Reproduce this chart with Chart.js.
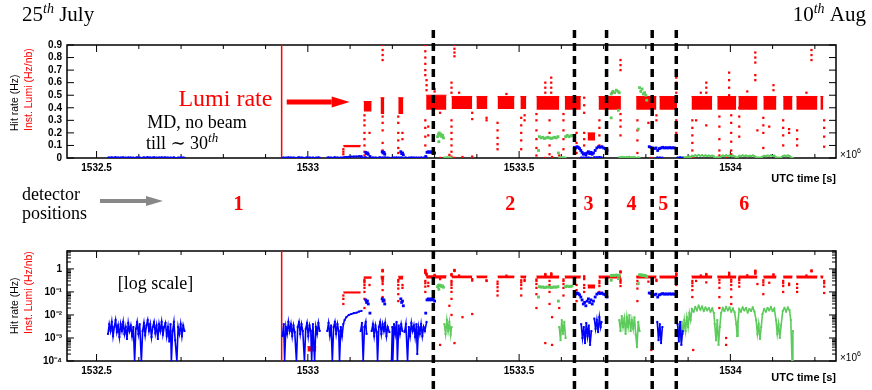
<!DOCTYPE html>
<html>
<head>
<meta charset="utf-8">
<script src="https://cdn.jsdelivr.net/npm/chart.js@4.4.1/dist/chart.umd.min.js"></script>
<style>
html, body { margin: 0; padding: 0; background: #fff; }
#wrap { position: relative; width: 872px; height: 390px; }
canvas { position: absolute; left: 0; }
#top { top: 0; }
#bottom { top: 240px; }
</style>
</head>
<body>
<div id="wrap">
  <canvas id="top" width="872" height="240"></canvas>
  <canvas id="bottom" width="872" height="150"></canvas>
</div>
<script>
// x values are UTC time in units of 1e6 s
const xTicks = [1532.5, 1533, 1533.5, 1534];
const linTicks = [0, 0.1, 0.2, 0.3, 0.4, 0.5, 0.6, 0.7, 0.8, 0.9];
const logTicks = [1e-4, 1e-3, 1e-2, 1e-1, 1];
const logTickLabels = ['10⁻⁴', '10⁻³', '10⁻²', '10⁻¹', '1'];

const dividers = [1533.297, 1533.631, 1533.707, 1533.815, 1533.872];
const positionNames = ['1', '2', '3', '4', '5', '6'];
const positionX = [1532.836, 1533.479, 1533.664, 1533.766, 1533.841, 1534.033];

// lumi fills: [start, end, low, high]
const lumiFills = [
    [1532.999, 1533.020, 0.00026, 0.00042],
    [1533.084, 1533.125, 0.085, 0.100],
    [1533.132, 1533.151, 0.37, 0.45],
    [1533.172, 1533.181, 0.35, 0.48],
    [1533.214, 1533.226, 0.35, 0.48],
    [1533.280, 1533.328, 0.385, 0.50],
    [1533.340, 1533.389, 0.39, 0.49],
    [1533.399, 1533.425, 0.39, 0.49],
    [1533.449, 1533.489, 0.39, 0.49],
    [1533.503, 1533.517, 0.39, 0.49],
    [1533.541, 1533.595, 0.385, 0.49],
    [1533.608, 1533.646, 0.385, 0.49],
    [1533.662, 1533.680, 0.14, 0.20],
    [1533.688, 1533.741, 0.385, 0.49],
    [1533.777, 1533.825, 0.385, 0.49],
    [1533.832, 1533.874, 0.385, 0.49],
    [1533.908, 1533.957, 0.385, 0.49],
    [1533.969, 1534.014, 0.385, 0.49],
    [1534.019, 1534.064, 0.385, 0.49],
    [1534.078, 1534.109, 0.385, 0.49],
    [1534.125, 1534.147, 0.385, 0.49],
    [1534.156, 1534.206, 0.385, 0.49],
    [1534.213, 1534.220, 0.385, 0.49]
];
const lumiSpike = [[1532.938, 0.00001], [1532.938, 50]];
// single lumi readings: [x, [y, ...]]
const lumiPoints = [
    [1533.084, [0.07, 0.05, 0.03]],
    [1533.134, [0.34, 0.3, 0.26, 0.2, 0.15, 0.1, 0.05, 0.02]],
    [1533.146, [0.2]],
    [1533.177, [0.9, 0.86, 0.82, 0.78, 0.33, 0.28, 0.22, 0.12, 0.06]],
    [1533.181, [0.04]],
    [1533.214, [0.33, 0.28, 0.2, 0.14, 0.08, 0.04]],
    [1533.224, [0.2, 0.15]],
    [1533.278, [0.9, 0.85, 0.8, 0.75, 0.7, 0.66, 0.3, 0.24, 0.17, 0.1]],
    [1533.281, [0.62, 0.58, 0.54]],
    [1533.285, [0.25, 0.18]],
    [1533.300, [0.53, 0.55]],
    [1533.313, [0.36, 0.0005]],
    [1533.335, [0.025]],
    [1533.340, [0.6, 0.56, 0.52, 0.3, 0.25, 0.2, 0.15, 0.1, 0.05, 0.01]],
    [1533.347, [0.9, 0.87, 0.84, 0.81, 0.0006]],
    [1533.358, [0.52]],
    [1533.366, [0.008]],
    [1533.389, [0.36, 0.31, 0.011]],
    [1533.423, [0.32, 0.3]],
    [1533.449, [0.28, 0.22, 0.16, 0.11, 0.07]],
    [1533.470, [0.51]],
    [1533.505, [0.32, 0.26, 0.2, 0.14, 0.07]],
    [1533.513, [0.34, 0.3]],
    [1533.541, [0.35, 0.3, 0.22, 0.15, 0.08, 0.02]],
    [1533.562, [0.6, 0.56, 0.52, 0.48, 0.0006]],
    [1533.572, [0.3, 0.2, 0.1, 0.03]],
    [1533.576, [0.64, 0.6, 0.56, 0.52]],
    [1533.578, [0.008, 0.0005]],
    [1533.595, [0.02]],
    [1533.605, [0.35, 0.3, 0.22, 0.15, 0.07]],
    [1533.636, [0.2, 0.12, 0.04]],
    [1533.654, [0.48, 0.42, 0.36, 0.2, 0.15, 0.1]],
    [1533.690, [0.3, 0.24, 0.18, 0.1]],
    [1533.720, [0.52]],
    [1533.740, [0.78, 0.74, 0.7, 0.35, 0.3, 0.25, 0.18]],
    [1533.780, [0.3, 0.22, 0.14, 0.04]],
    [1533.806, [0.28]],
    [1533.813, [0.0003]],
    [1533.825, [0.34, 0.3]],
    [1533.872, [0.64, 0.6, 0.56, 0.52, 0.35, 0.3, 0.25, 0.2]],
    [1533.910, [0.3, 0.24, 0.18, 0.12, 0.06]],
    [1533.912, [0.0003]],
    [1533.919, [0.3]],
    [1533.930, [0.52]],
    [1533.943, [0.6, 0.56, 0.52, 0.26]],
    [1533.974, [0.33, 0.25, 0.15, 0.06, 0.02]],
    [1533.990, [0.0005, 0.001]],
    [1533.997, [0.68, 0.62, 0.56, 0.5]],
    [1534.002, [0.34, 0.28, 0.2, 0.13, 0.06, 0.03]],
    [1534.021, [0.4, 0.33, 0.25, 0.17]],
    [1534.040, [0.53]],
    [1534.059, [0.84, 0.8, 0.76, 0.66, 0.62]],
    [1534.064, [0.22]],
    [1534.078, [0.32, 0.26, 0.2, 0.08]],
    [1534.092, [0.25]],
    [1534.102, [0.58, 0.54]],
    [1534.125, [0.3, 0.24, 0.18, 0.1]],
    [1534.139, [0.23, 0.2]],
    [1534.158, [0.22, 0.15, 0.1]],
    [1534.180, [0.52]],
    [1534.192, [0.86, 0.82, 0.78]],
    [1534.222, [0.3, 0.24, 0.17, 0.09]]
];

// hit rate, detector in blue: noisy baseline stretches
const blueNoise = [
    [[1532.527,0.0015],[1532.530,0.004],[1532.533,0.002],[1532.536,0.005],[1532.539,0.0012],[1532.542,0.003],[1532.545,0.006],[1532.548,0.0018],[1532.551,0.0035],[1532.554,0.0011],[1532.557,0.004],[1532.560,0.002],[1532.563,0.005],[1532.566,0.0015],[1532.569,0.003],[1532.572,0.0009],[1532.575,0.0045],[1532.578,0.002],[1532.581,0.0035],[1532.584,0.0012],[1532.587,0.003],[1532.590,0.0001],[1532.593,0.0025],[1532.596,0.005],[1532.599,0.0015],[1532.602,0.004],[1532.606,0.0001],[1532.609,0.002],[1532.612,0.0045],[1532.615,0.0013],[1532.618,0.0035],[1532.621,0.006],[1532.624,0.002],[1532.627,0.004],[1532.630,0.0011],[1532.633,0.003],[1532.636,0.005],[1532.639,0.0016],[1532.642,0.0035],[1532.645,0.0009],[1532.648,0.004],[1532.651,0.002],[1532.654,0.005],[1532.657,0.0014],[1532.660,0.003],[1532.663,0.0045],[1532.666,0.0012],[1532.669,0.003],[1532.672,0.0007],[1532.675,0.004],[1532.677,0.0001],[1532.680,0.002],[1532.683,0.005],[1532.686,0.0008],[1532.690,0.0001],[1532.693,0.003],[1532.696,0.0015],[1532.699,0.004],[1532.702,0.0012],[1532.705,0.0035],[1532.708,0.002]],
    [[1532.940,0.0012],[1532.943,0.004],[1532.945,0.0001],[1532.948,0.003],[1532.951,0.0015],[1532.954,0.005],[1532.957,0.002],[1532.960,0.004],[1532.963,0.0012],[1532.966,0.0035],[1532.969,0.0018],[1532.973,0.0001],[1532.976,0.003],[1532.979,0.005],[1532.982,0.0015],[1532.985,0.004],[1532.988,0.002],[1532.992,0.0001],[1532.995,0.0025],[1532.998,0.0045],[1533.001,0.0012],[1533.004,0.0035],[1533.007,0.002],[1533.009,0.0001],[1533.012,0.004],[1533.016,0.0001],[1533.019,0.003],[1533.022,0.0015],[1533.025,0.0045],[1533.028,0.002]],
    [[1533.046,0.002],[1533.049,0.0045],[1533.052,0.0013],[1533.055,0.0035],[1533.058,0.0001],[1533.061,0.003],[1533.064,0.005],[1533.067,0.0015],[1533.070,0.004],[1533.073,0.002],[1533.075,0.0001],[1533.078,0.003],[1533.081,0.0012],[1533.084,0.004],[1533.087,0.006],[1533.091,0.008],[1533.097,0.01],[1533.103,0.011],[1533.109,0.012],[1533.115,0.0125],[1533.121,0.014],[1533.127,0.015]],
    [[1533.125,0.002],[1533.128,0.0045],[1533.131,0.0001],[1533.134,0.003],[1533.137,0.005],[1533.139,0.0015]],
    [[1533.151,0.002],[1533.154,0.004],[1533.157,0.0012],[1533.160,0.0035],[1533.163,0.0018],[1533.165,0.0001],[1533.168,0.003],[1533.171,0.005],[1533.174,0.0015],[1533.177,0.004],[1533.180,0.002],[1533.183,0.0045],[1533.186,0.0012],[1533.189,0.003],[1533.193,0.0018]],
    [[1533.198,0.0001],[1533.200,0.003],[1533.201,0.0001],[1533.204,0.004],[1533.207,0.0015],[1533.210,0.005],[1533.212,0.0001],[1533.215,0.0035],[1533.218,0.0015],[1533.221,0.004],[1533.224,0.002]],
    [[1533.229,0.0018],[1533.232,0.004],[1533.236,0.0001],[1533.239,0.003],[1533.242,0.0012],[1533.245,0.0045],[1533.248,0.002],[1533.251,0.0035],[1533.254,0.0011],[1533.257,0.004],[1533.259,0.0002],[1533.262,0.003],[1533.265,0.0015],[1533.268,0.004],[1533.271,0.0012],[1533.274,0.003],[1533.277,0.002],[1533.281,0.005]],
    [[1533.647,0.004],[1533.650,0.001],[1533.653,0.003],[1533.656,0.0006],[1533.659,0.0045],[1533.662,0.0012],[1533.665,0.0035],[1533.668,0.0005],[1533.671,0.002]],
    [[1533.678,0.007],[1533.681,0.0025],[1533.684,0.006],[1533.687,0.0018],[1533.690,0.008],[1533.693,0.003],[1533.695,0.005]],
    [[1533.827,0.005],[1533.830,0.0008],[1533.833,0.004],[1533.836,0.0006],[1533.839,0.003]],
    [[1533.875,0.004],[1533.878,0.0007],[1533.881,0.005],[1533.884,0.0005],[1533.887,0.002]]
];
const bluePoints = [
    [1533.137,0.045],[1533.139,0.035],[1533.141,0.04],[1533.143,0.03],[1533.147,0.012],
    [1533.176,0.05],[1533.178,0.04],[1533.180,0.045],[1533.182,0.03],
    [1533.220,0.05],[1533.222,0.035],[1533.224,0.04],[1533.226,0.025],
    [1533.279,0.012],[1533.282,0.045],[1533.285,0.05],[1533.288,0.045],[1533.291,0.05],[1533.294,0.045],[1533.297,0.05],[1533.300,0.04],
    [1533.631,0.085],[1533.634,0.08],[1533.637,0.09],[1533.640,0.085],[1533.643,0.075],[1533.646,0.06],[1533.649,0.045],[1533.652,0.03],[1533.655,0.035],[1533.658,0.025],[1533.661,0.04],[1533.664,0.05],[1533.667,0.035],[1533.670,0.045],[1533.673,0.03],[1533.676,0.04],[1533.680,0.06],[1533.684,0.08],[1533.688,0.09],[1533.692,0.085],[1533.696,0.09],[1533.700,0.08],[1533.704,0.075],[1533.708,0.06],
    [1533.808,0.09],[1533.812,0.085],[1533.816,0.08],[1533.820,0.075],[1533.824,0.08],[1533.828,0.06],[1533.832,0.075],[1533.836,0.08],[1533.840,0.085],[1533.844,0.08],[1533.848,0.082],[1533.852,0.08],[1533.856,0.083],[1533.860,0.08],[1533.864,0.082],[1533.868,0.08],[1533.872,0.075]
];

// hit rate, detector in green
const greenNoise = [
    [[1533.323,0.004],[1533.326,0.0015],[1533.329,0.006],[1533.332,0.002],[1533.335,0.005],[1533.338,0.0014],[1533.340,0.003]],
    [[1533.595,0.003],[1533.598,0.0008],[1533.601,0.006],[1533.604,0.0015],[1533.607,0.005],[1533.610,0.001]],
    [[1533.737,0.006],[1533.740,0.002],[1533.743,0.009],[1533.746,0.003],[1533.749,0.007],[1533.752,0.0015],[1533.755,0.008],[1533.758,0.003],[1533.761,0.01],[1533.764,0.002],[1533.767,0.006],[1533.770,0.0025],[1533.773,0.008],[1533.776,0.0014],[1533.779,0.0004],[1533.782,0.005],[1533.785,0.002]],
    [[1533.879,0.003],[1533.882,0.0008],[1533.885,0.005],[1533.888,0.0015],[1533.891,0.006],[1533.894,0.002],[1533.897,0.008],[1533.900,0.003],[1533.903,0.012],[1533.906,0.006],[1533.909,0.018],[1533.913,0.014],[1533.917,0.022],[1533.921,0.016],[1533.925,0.025],[1533.929,0.017],[1533.933,0.023],[1533.937,0.015],[1533.941,0.021],[1533.945,0.016],[1533.949,0.02],[1533.953,0.014],[1533.957,0.019],[1533.961,0.012],[1533.963,0.004],[1533.966,0.0008],[1533.969,0.006],[1533.972,0.0005],[1533.975,0.003],[1533.978,0.012],[1533.982,0.02],[1533.986,0.015],[1533.990,0.022],[1533.994,0.016],[1533.998,0.021],[1534.002,0.014],[1534.006,0.019],[1534.010,0.013],[1534.014,0.004],[1534.016,0.0012],[1534.018,0.005],[1534.021,0.018],[1534.025,0.014],[1534.029,0.021],[1534.033,0.016],[1534.037,0.02],[1534.041,0.013],[1534.045,0.018],[1534.049,0.015],[1534.053,0.021],[1534.057,0.014],[1534.061,0.006],[1534.064,0.0015],[1534.067,0.004],[1534.070,0.0009],[1534.073,0.003],[1534.076,0.011],[1534.080,0.018],[1534.084,0.014],[1534.088,0.02],[1534.092,0.016],[1534.096,0.022],[1534.100,0.015],[1534.104,0.019],[1534.108,0.006],[1534.111,0.0015],[1534.114,0.004],[1534.117,0.001],[1534.120,0.0035],[1534.124,0.015],[1534.128,0.02],[1534.132,0.014],[1534.136,0.021],[1534.140,0.016],[1534.143,0.006],[1534.146,0.0001],[1534.148,0.002]]
];
const greenPoints = [
    [1533.307,0.17],[1533.309,0.19],[1533.311,0.2],[1533.313,0.18],[1533.315,0.19],[1533.317,0.17],[1533.319,0.18],[1533.321,0.16],[1533.310,0.13],
    [1533.548,0.17],[1533.552,0.16],[1533.556,0.165],[1533.560,0.155],[1533.564,0.16],[1533.568,0.165],[1533.572,0.16],[1533.576,0.155],[1533.580,0.16],[1533.584,0.165],[1533.588,0.16],[1533.592,0.17],[1533.546,0.06],[1533.593,0.04],
    [1533.610,0.17],[1533.614,0.18],[1533.618,0.17],[1533.622,0.175],[1533.625,0.18],
    [1533.718,0.51],[1533.722,0.53],[1533.726,0.52],[1533.730,0.54],[1533.734,0.53],[1533.737,0.52],[1533.718,0.32],[1533.735,0.38],
    [1533.785,0.56],[1533.788,0.53],[1533.791,0.55],[1533.794,0.51],[1533.797,0.52],[1533.800,0.5],[1533.802,0.46],[1533.782,0.23]
];

const RED = '#ff0000', BLUE = '#0000ff', GREEN = '#5ccb5c';
const SANS = '"Liberation Sans", Arial, sans-serif';
const SERIF = '"Liberation Serif", "DejaVu Serif", serif';

function toXY(list) {
    return list.map(p => ({x: p[0], y: p[1]}));
}

function buildDatasets() {
    let sets = [];
    lumiFills.forEach(f => {
        sets.push({
            data: [{x: f[0], y: f[3]}, {x: f[1], y: f[3]}],
            borderColor: RED, backgroundColor: RED, borderWidth: 1,
            pointRadius: 0, fill: {target: {value: f[2]}}, order: 5
        });
    });
    let pts = [];
    lumiPoints.forEach(c => c[1].forEach(v => pts.push({x: c[0], y: v})));
    sets.push({data: pts, showLine: false, pointStyle: 'rect', pointRadius: 1.6,
        pointBackgroundColor: RED, pointBorderWidth: 0, order: 4});
    sets.push({data: toXY(lumiSpike), borderColor: RED, borderWidth: 1.5, pointRadius: 0, order: 4});
    greenNoise.forEach(seg => {
        sets.push({data: toXY(seg), borderColor: GREEN, borderWidth: 1.6, pointStyle: 'rect', pointRadius: 1.4,
            pointBackgroundColor: GREEN, pointBorderWidth: 0, order: 3});
    });
    sets.push({data: toXY(greenPoints), showLine: false, pointStyle: 'rect', pointRadius: 2,
        pointBackgroundColor: GREEN, pointBorderWidth: 0, order: 3});
    blueNoise.forEach(seg => {
        sets.push({data: toXY(seg), borderColor: BLUE, borderWidth: 1.6, pointStyle: 'rect', pointRadius: 1.4,
            pointBackgroundColor: BLUE, pointBorderWidth: 0, order: 2});
    });
    sets.push({data: toXY(bluePoints), showLine: false, pointStyle: 'rect', pointRadius: 2,
        pointBackgroundColor: BLUE, pointBorderWidth: 0, order: 1});
    return sets;
}

// text with raised parts: [text, font, raise]
function drawRich(ctx, x, y, parts, align) {
    let w = 0;
    parts.forEach(p => { ctx.font = p[1]; w += ctx.measureText(p[0]).width; });
    let cx = align === 'right' ? x - w : (align === 'center' ? x - w / 2 : x);
    ctx.textAlign = 'left';
    parts.forEach(p => {
        ctx.font = p[1];
        ctx.fillText(p[0], cx, y - (p[2] || 0));
        cx += ctx.measureText(p[0]).width;
    });
}

function arrow(ctx, x0, x1, yy, shaft, headLen, headH, color) {
    ctx.fillStyle = color;
    ctx.fillRect(x0, yy - shaft / 2, x1 - headLen - x0, shaft);
    ctx.beginPath();
    ctx.moveTo(x1 - headLen, yy - headH / 2);
    ctx.lineTo(x1, yy);
    ctx.lineTo(x1 - headLen, yy + headH / 2);
    ctx.closePath();
    ctx.fill();
}

// box and inward ticks, drawn under the data
const axesFrame = {
    id: 'axesFrame',
    beforeDatasetsDraw(chart) {
        const {ctx, chartArea: a} = chart;
        const x = chart.scales.x, y = chart.scales.y;
        ctx.save();
        ctx.strokeStyle = '#000';
        ctx.lineWidth = 1;
        ctx.beginPath();
        for (let k = Math.ceil(x.min * 10); k <= Math.floor(x.max * 10); k++) {
            const px = x.getPixelForValue(k / 10);
            const len = k % 5 === 0 ? 7 : 4;
            ctx.moveTo(px, a.bottom); ctx.lineTo(px, a.bottom - len);
            ctx.moveTo(px, a.top); ctx.lineTo(px, a.top + len);
        }
        let yt = [];
        if (y.type === 'logarithmic') {
            for (let e = -4; e <= 0; e++) {
                for (let m = 1; m <= 9; m++) {
                    const v = m * Math.pow(10, e);
                    if (v <= y.max) yt.push([v, m === 1 ? 7 : 4]);
                }
            }
        } else {
            linTicks.forEach(v => yt.push([v, 7]));
        }
        yt.forEach(t => {
            const py = y.getPixelForValue(t[0]);
            ctx.moveTo(a.left, py); ctx.lineTo(a.left + t[1], py);
            ctx.moveTo(a.right, py); ctx.lineTo(a.right - t[1], py);
        });
        ctx.stroke();
        ctx.lineWidth = 1.5;
        ctx.strokeRect(a.left, a.top, a.right - a.left, a.bottom - a.top);
        ctx.restore();
    }
};

const axisText = {
    id: 'axisText',
    afterDraw(chart, args, opts) {
        const {ctx, chartArea: a} = chart;
        ctx.save();
        [['Hit rate (Hz)', '#000', 15], ['Inst. Lumi (Hz/nb)', RED, 29]].forEach(t => {
            ctx.save();
            ctx.translate(t[2], a.bottom - 27);
            ctx.rotate(-Math.PI / 2);
            ctx.font = '10.5px ' + SANS;
            ctx.fillStyle = t[1];
            ctx.textAlign = 'left';
            ctx.textBaseline = 'middle';
            ctx.fillText(t[0], 0, 0);
            ctx.restore();
        });
        ctx.fillStyle = '#000';
        ctx.textBaseline = 'alphabetic';
        drawRich(ctx, a.right + 4, a.bottom, [['×10', '10px ' + SANS], ['6', '7px ' + SANS, 5]], 'left');
        ctx.font = 'bold 11px ' + SANS;
        ctx.textAlign = 'right';
        ctx.fillText('UTC time [s]', a.right, a.bottom + opts.utcDy);
        ctx.restore();
    }
};

const dividerLines = {
    id: 'dividerLines',
    afterDraw(chart, args, opts) {
        const ctx = chart.ctx, x = chart.scales.x;
        ctx.save();
        ctx.strokeStyle = '#000';
        ctx.lineWidth = 3.5;
        ctx.setLineDash([8, 5]);
        ctx.lineDashOffset = opts.offset;
        dividers.forEach(v => {
            const px = x.getPixelForValue(v);
            ctx.beginPath();
            ctx.moveTo(px, opts.from);
            ctx.lineTo(px, opts.to);
            ctx.stroke();
        });
        ctx.restore();
    }
};

const topNotes = {
    id: 'topNotes',
    afterDraw(chart) {
        const ctx = chart.ctx, x = chart.scales.x, y = chart.scales.y;
        ctx.save();
        ctx.textBaseline = 'alphabetic';
        ctx.fillStyle = '#000';
        drawRich(ctx, 22, 21, [['25', '21px ' + SERIF], ['th', 'italic 14px ' + SERIF, 8], [' July', '21px ' + SERIF]], 'left');
        drawRich(ctx, 866, 21, [['10', '21px ' + SERIF], ['th', 'italic 14px ' + SERIF, 8], [' Aug', '21px ' + SERIF]], 'right');
        drawRich(ctx, x.getPixelForValue(1532.62), y.getPixelForValue(0.235), [['MD, no beam', '18px ' + SERIF]], 'left');
        drawRich(ctx, x.getPixelForValue(1532.617), y.getPixelForValue(0.075),
            [['till ∼ 30', '18px ' + SERIF], ['th', 'italic 13px ' + SERIF, 7]], 'left');
        ctx.fillStyle = RED;
        drawRich(ctx, x.getPixelForValue(1532.916), y.getPixelForValue(0.415), [['Lumi rate', '24px ' + SERIF]], 'right');
        arrow(ctx, x.getPixelForValue(1532.95), x.getPixelForValue(1533.099), y.getPixelForValue(0.446), 5, 18, 11, RED);
        ctx.fillStyle = '#000';
        drawRich(ctx, 22, 200, [['detector', '18px ' + SERIF]], 'left');
        drawRich(ctx, 22, 219, [['positions', '18px ' + SERIF]], 'left');
        arrow(ctx, 100, 163, 201, 4, 17, 10, '#888');
        ctx.fillStyle = RED;
        ctx.font = 'bold 20px ' + SERIF;
        ctx.textAlign = 'center';
        positionNames.forEach((n, i) => ctx.fillText(n, x.getPixelForValue(positionX[i]), 210));
        ctx.restore();
    }
};

const bottomNotes = {
    id: 'bottomNotes',
    afterDraw(chart) {
        const ctx = chart.ctx, x = chart.scales.x, y = chart.scales.y;
        ctx.save();
        ctx.fillStyle = '#000';
        ctx.textBaseline = 'alphabetic';
        drawRich(ctx, x.getPixelForValue(1532.55), y.getPixelForValue(0.13), [['[log scale]', '18px ' + SERIF]], 'left');
        ctx.restore();
    }
};

function tickFont() {
    return {family: SANS, size: 10, weight: 'bold'};
}

function makeOptions(yScale, padding, extra) {
    return {
        animation: false,
        responsive: false,
        events: [],
        layout: {padding: padding},
        plugins: Object.assign({legend: {display: false}, tooltip: {enabled: false}}, extra),
        scales: {
            x: {
                type: 'linear', min: 1532.43, max: 1534.25,
                afterBuildTicks: s => { s.ticks = xTicks.map(v => ({value: v})); },
                afterFit: s => { s.height = 18; },
                grid: {display: false, drawTicks: false},
                border: {display: false},
                ticks: {padding: 4, autoSkip: false, maxRotation: 0, color: '#000', font: tickFont(),
                    callback: v => String(v)}
            },
            y: yScale
        }
    };
}

let topChart = new Chart(document.getElementById('top').getContext('2d'), {
    type: 'line',
    data: {datasets: buildDatasets()},
    options: makeOptions({
        type: 'linear', min: 0, max: 0.9,
        afterBuildTicks: s => { s.ticks = linTicks.map(v => ({value: v})); },
        afterFit: s => { s.width = 67; },
        grid: {display: false, drawTicks: false},
        border: {display: false},
        ticks: {padding: 5, autoSkip: false, color: '#000', font: tickFont(), callback: v => String(v)}
    }, {top: 45, right: 36, bottom: 64, left: 0}, {
        axisText: {utcDy: 24},
        dividerLines: {from: 30, to: 240, offset: 0}
    }),
    plugins: [axesFrame, axisText, topNotes, dividerLines]
});

let bottomChart = new Chart(document.getElementById('bottom').getContext('2d'), {
    type: 'line',
    data: {datasets: buildDatasets()},
    options: makeOptions({
        type: 'logarithmic', min: 1e-4, max: 6,
        afterBuildTicks: s => { s.ticks = logTicks.map(v => ({value: v})); },
        afterFit: s => { s.width = 67; },
        grid: {display: false, drawTicks: false},
        border: {display: false},
        ticks: {padding: 5, autoSkip: false, color: '#000', font: tickFont(), callback: (v, i) => logTickLabels[i]}
    }, {top: 8, right: 36, bottom: 11, left: 0}, {
        axisText: {utcDy: 20},
        dividerLines: {from: 0, to: 150, offset: 2}
    }),
    plugins: [axesFrame, axisText, bottomNotes, dividerLines]
});
</script>
</body>
</html>
